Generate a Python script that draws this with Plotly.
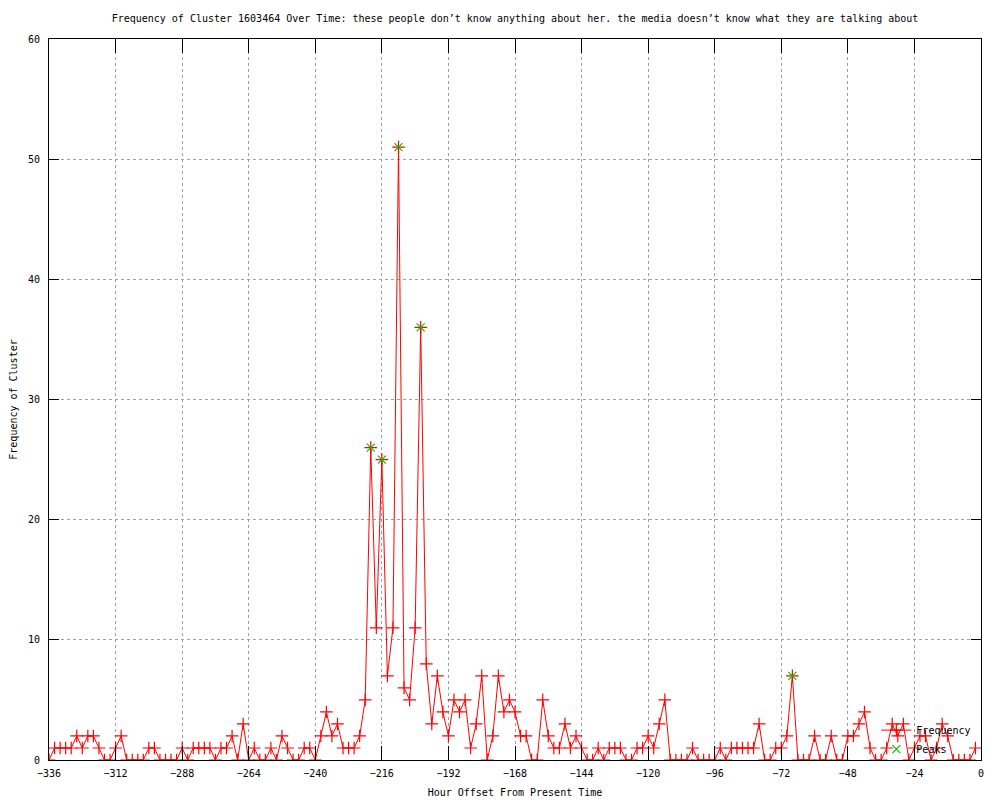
"""Frequency of a cluster over time, gnuplot-style line chart with peaks"""
import plotly.graph_objects as go

# Hours before present (every 2 hours)
hours = list(range(-336, 0, 2))

# Frequency of the cluster at each hour
frequency = [
    0, 1, 1, 1, 1, 2, 1, 2, 2, 1,
    0, 0, 1, 2, 0, 0, 0, 0, 1, 1,
    0, 0, 0, 0, 1, 0, 1, 1, 1, 1,
    0, 1, 1, 2, 0, 3, 0, 1, 0, 0,
    1, 0, 2, 1, 0, 0, 1, 1, 0, 2,
    4, 2, 3, 1, 1, 1, 2, 5, 26, 11,
    25, 7, 11, 51, 6, 5, 11, 36, 8, 3,
    7, 4, 2, 5, 4, 5, 1, 3, 7, 0,
    2, 7, 4, 5, 4, 2, 2, 0, 0, 5,
    2, 1, 1, 3, 1, 2, 1, 0, 0, 1,
    0, 1, 1, 1, 0, 0, 1, 1, 2, 1,
    3, 5, 0, 0, 0, 0, 1, 0, 0, 0,
    0, 1, 0, 1, 1, 1, 1, 1, 3, 0,
    0, 1, 1, 2, 7, 0, 0, 0, 2, 0,
    0, 2, 0, 0, 2, 2, 3, 4, 1, 0,
    0, 1, 3, 2, 3, 0, 1, 2, 2, 0,
    1, 3, 2, 0, 0, 0, 0, 1,
]

# Detected peaks
peak_hours = [-220, -216, -210, -202, -68]
peak_values = [26, 25, 51, 36, 7]

title_text = ("Frequency of Cluster 1603464 Over Time: these people don’t know anything "
              "about her. the media doesn’t know what they are talking about")

FONT = dict(family="DejaVu Sans Mono", size=10, color="black")

fig = go.Figure()

# Frequency line with "+" markers
fig.add_trace(go.Scatter(x=hours, y=frequency, name="Frequency", mode="lines+markers",
                         line=dict(color="#ff0000", width=1),
                         marker=dict(symbol="cross-thin", size=9,
                                     line=dict(color="#ff0000", width=1.2))))

# Peaks as green "x" points
fig.add_trace(go.Scatter(x=peak_hours, y=peak_values, name="Peaks", mode="markers",
                         marker=dict(symbol="x-thin", size=8,
                                     line=dict(color="#00c000", width=1.2))))

axis_style = dict(showline=True, linecolor="black", linewidth=1, mirror="ticks",
                  ticks="inside", tickcolor="black", tickwidth=1,
                  showgrid=True, gridcolor="#a0a0a0", griddash="dot", gridwidth=1,
                  zeroline=False, tickfont=FONT, automargin=False)

# the page adds an 8px body margin, margins below are compensated for it
fig.update_layout(width=1000, height=800,
                  paper_bgcolor="white", plot_bgcolor="white",
                  font=FONT,
                  margin=dict(l=41, r=27, t=31, b=48),
                  title=dict(text=title_text, font=FONT, x=0.5, xref="paper",
                             y=1 - 10 / 800, yref="container", yanchor="middle",
                             automargin=False),
                  xaxis=dict(axis_style, range=[-336, 0], tickmode="array",
                             tickvals=list(range(-336, 1, 24)), ticklen=14,
                             ticklabelstandoff=4,
                             title=dict(text="Hour Offset From Present Time", font=FONT, standoff=10)),
                  yaxis=dict(axis_style, range=[0, 60], dtick=10, ticklen=10,
                             ticklabelstandoff=6,
                             title=dict(text="Frequency of Cluster", font=FONT, standoff=14)),
                  legend=dict(x=0.995, y=-0.005, xanchor="right", yanchor="bottom",
                              bgcolor="rgba(0,0,0,0)", font=FONT, tracegroupgap=0,
                              itemwidth=30))

fig.write_html("out.html")
